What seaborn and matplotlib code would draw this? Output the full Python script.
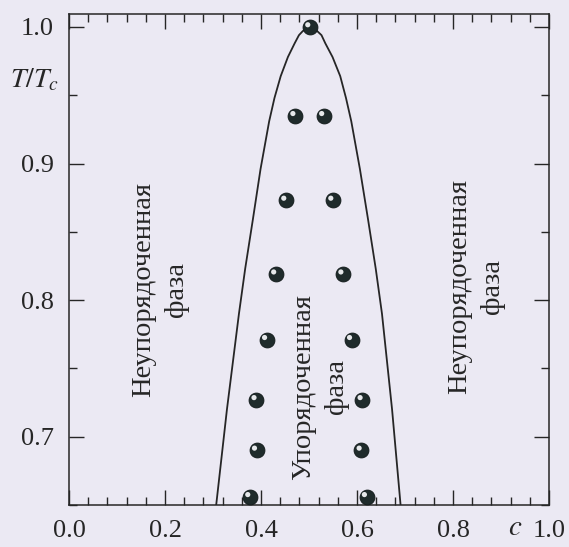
import numpy as np
import pandas as pd
import matplotlib
matplotlib.use("Agg")
import matplotlib.pyplot as plt
import matplotlib.transforms as mtransforms
from matplotlib.ticker import MultipleLocator
import seaborn as sns

# --- data ---
# ordered-phase points (concentration c, reduced temperature T/Tc)
dot_c = [0.502, 0.471, 0.531, 0.452, 0.550, 0.431, 0.571, 0.412, 0.589,
         0.390, 0.611, 0.391, 0.609, 0.377, 0.620]
dot_t = [1.000, 0.935, 0.935, 0.873, 0.873, 0.819, 0.819, 0.771, 0.771,
         0.727, 0.727, 0.690, 0.690, 0.656, 0.656]

# order-disorder boundary
bound_c = [0.305, 0.329, 0.354, 0.367, 0.383, 0.399, 0.417, 0.428, 0.441, 0.456,
           0.470, 0.479, 0.487, 0.502, 0.517, 0.526, 0.534, 0.549, 0.565, 0.577,
           0.588, 0.606, 0.623, 0.639, 0.652, 0.673, 0.692]
bound_t = [0.645, 0.720, 0.790, 0.823, 0.859, 0.896, 0.931, 0.948, 0.964, 0.978,
           0.988, 0.994, 0.997, 1.000, 0.997, 0.994, 0.988, 0.978, 0.964, 0.948,
           0.931, 0.896, 0.859, 0.823, 0.790, 0.720, 0.645]

x_ticks = [0.0, 0.2, 0.4, 0.6, 0.8, 1.0]
y_ticks = [0.7, 0.8, 0.9, 1.0]

bg = "#ebe9f3"
ink = "#262626"

sns.set_theme(style="ticks")
plt.rcParams["font.family"] = ["Liberation Serif", "DejaVu Serif"]
plt.rcParams["mathtext.fontset"] = "stix"
plt.rcParams["text.color"] = ink
plt.rcParams["axes.edgecolor"] = ink
plt.rcParams["xtick.color"] = ink
plt.rcParams["ytick.color"] = ink

fig = plt.figure(figsize=(5.69, 5.47), dpi=100, facecolor=bg)
ax = fig.add_axes([0.1213, 0.0768, 0.8436, 0.8976], facecolor=bg)

bound = pd.DataFrame({"c": bound_c, "t": bound_t})
sns.lineplot(data=bound, x="c", y="t", sort=False, estimator=None,
             color=ink, linewidth=1.3, ax=ax)

dots = pd.DataFrame({"c": dot_c, "t": dot_t})
sns.scatterplot(data=dots, x="c", y="t", s=115, color="#1f2b2b",
                edgecolor="#101818", linewidth=0.6, ax=ax, zorder=3)
# small highlight to give the dots a shaded look
hl = mtransforms.offset_copy(ax.transData, fig=fig, x=-1.6, y=1.6, units="points")
ax.scatter(dot_c, dot_t, s=14, color="#e6e8ea", edgecolor="none",
           transform=hl, zorder=4)

ax.set_xlim(0.0, 1.0)
ax.set_ylim(0.65, 1.0095)
ax.set_xticks(x_ticks)
ax.set_xticklabels([f"{v:.1f}" for v in x_ticks])
ax.set_yticks(y_ticks)
ax.set_yticklabels([f"{v:.1f}" for v in y_ticks])
ax.xaxis.set_minor_locator(MultipleLocator(0.04))
ax.yaxis.set_minor_locator(MultipleLocator(0.05))
ax.tick_params(which="both", direction="in", top=True, right=True,
               labelsize=19, width=1.0)
ax.tick_params(which="major", length=11)
ax.tick_params(which="minor", length=5.5)
ax.tick_params(axis="x", pad=11)
ax.tick_params(axis="y", pad=11)
for sp in ax.spines.values():
    sp.set_linewidth(1.1)
ax.set_xlabel("")
ax.set_ylabel("")

# axis names
ax.text(0.93, 0.633, r"$c$", fontsize=21, ha="center", va="center", clip_on=False)
ax.text(-0.072, 0.961, r"$T/T_c$", fontsize=20, ha="center", va="center", clip_on=False)

# phase labels
kw = dict(rotation=90, ha="center", va="center", multialignment="center",
          fontsize=20.5, linespacing=1.4)
ax.text(0.19, 0.808, "Неупорядоченная\nфаза", **kw)
ax.text(0.523, 0.7365, "Упорядоченная\nфаза", **kw)
ax.text(0.848, 0.81, "Неупорядоченная\nфаза", **kw)

fig.savefig("out.png", dpi=100, facecolor=bg)
